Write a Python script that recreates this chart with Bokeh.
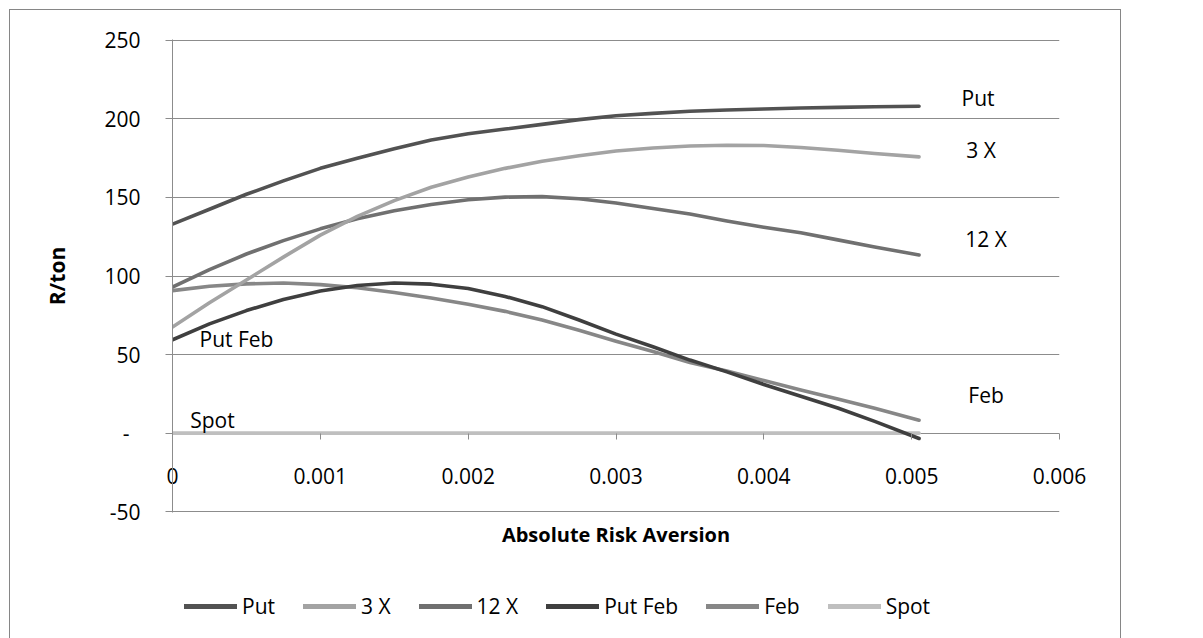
from bokeh.plotting import figure
from bokeh.layouts import column
from bokeh.models import (Range1d, FixedTicker, Legend, LegendItem, ColumnDataSource)
from bokeh.core.properties import value
from bokeh.embed import file_html
from bokeh.resources import INLINE

# ---- data ----
aversion = [0.0, 0.00025, 0.0005, 0.00075, 0.001, 0.00125, 0.0015, 0.00175, 0.002,
            0.00225, 0.0025, 0.00275, 0.003, 0.00325, 0.0035, 0.00375, 0.004,
            0.00425, 0.0045, 0.00475, 0.00505]
put      = [133, 142.5, 152, 160.5, 168.5, 175, 181, 186.5, 190.5, 193.5, 196.5,
            199.5, 202, 203.5, 204.8, 205.6, 206.3, 206.9, 207.3, 207.7, 208]
three_x  = [67.5, 83, 97.5, 112, 126, 138, 148, 156.5, 163, 168.5, 173,
            176.5, 179.5, 181.5, 182.7, 183.2, 183, 181.8, 180, 178, 175.8]
twelve_x = [93, 104, 114, 122.5, 130, 136.5, 141.5, 145.5, 148.5, 150.2, 150.5,
            149.2, 146.5, 143, 139.5, 135, 131, 127.5, 123, 118.5, 113.4]
put_feb  = [59.4, 69.5, 78, 85, 90.5, 94, 95.5, 94.8, 92, 87, 80.5,
            72, 63, 55, 46.5, 39, 31, 23.5, 16, 7.5, -3.4]
feb      = [90.7, 93.5, 95, 95.5, 94.5, 92.5, 89.5, 86, 82, 77.5, 72,
            65.5, 58.5, 52, 45, 39.5, 33.5, 27.5, 21.8, 15.8, 8.2]
spot     = [0, 0, 0, 0, 0, 0, 0, 0, 0, 0, 0, 0, 0, 0, 0, 0, 0, 0, 0, 0, 0]

series_names = ["Put", "3 X", "12 X", "Put Feb", "Feb", "Spot"]
series_vals = [put, three_x, twelve_x, put_feb, feb, spot]
series_colors = ["#525252", "#a3a3a3", "#707070", "#3f3f3f", "#878787", "#bfbfbf"]

x_ticks = [0, 0.001, 0.002, 0.003, 0.004, 0.005, 0.006]
x_tick_labels = ["0", "0.001", "0.002", "0.003", "0.004", "0.005", "0.006"]
y_ticks = [-50, 0, 50, 100, 150, 200, 250]
y_tick_labels = ["-50", "-\u00a0\u00a0", "50", "100", "150", "200", "250"]

FONT = "Open Sans"
GRID = "#8c8c8c"

p = figure(width=1110, height=560, output_backend="svg", toolbar_location=None,
           x_range=Range1d(0, 0.006), y_range=Range1d(-50.5, 250.5),
           min_border_left=162, min_border_right=61, min_border_top=29,
           min_border_bottom=58, title=None)
p.outline_line_color = None
p.background_fill_color = "white"
p.border_fill_color = "white"

# x axis: ticks and labels drawn at the y = 0 line
xa = p.xaxis[0]
xa.ticker = FixedTicker(ticks=x_ticks)
xa.major_label_overrides = {t: l for t, l in zip(x_ticks, x_tick_labels)}
xa.major_tick_in = 79
xa.major_tick_out = -73
xa.minor_tick_out = 0
xa.minor_tick_in = 0
xa.axis_line_color = None
xa.major_tick_line_color = GRID
xa.major_label_standoff = -45
xa.major_label_text_font = FONT
xa.major_label_text_font_size = "21px"
xa.major_label_text_color = "black"
xa.axis_label = "Absolute Risk Aversion"
xa.axis_label_text_font = FONT
xa.axis_label_text_font_size = "20px"
xa.axis_label_text_font_style = "bold"
xa.axis_label_text_color = "black"
xa.axis_label_standoff = 34

ya = p.yaxis[0]
ya.ticker = FixedTicker(ticks=y_ticks)
ya.major_label_overrides = {t: l for t, l in zip(y_ticks, y_tick_labels)}
ya.major_tick_out = 7
ya.major_tick_in = 0
ya.minor_tick_out = 0
ya.minor_tick_in = 0
ya.axis_line_color = GRID
ya.major_tick_line_color = GRID
ya.major_label_standoff = 25
ya.major_label_text_font = FONT
ya.major_label_text_font_size = "21px"
ya.major_label_text_color = "black"
ya.axis_label = "R/ton"
ya.axis_label_text_font = FONT
ya.axis_label_text_font_size = "21px"
ya.axis_label_text_font_style = "bold"
ya.axis_label_text_color = "black"
ya.axis_label_standoff = 30

p.xgrid.visible = False
p.ygrid.ticker = FixedTicker(ticks=y_ticks)
p.ygrid.grid_line_color = GRID
p.ygrid.grid_line_width = 1

# lines
for i in [5, 4, 3, 2, 1, 0]:
    p.line(aversion, series_vals[i], line_color=series_colors[i], line_width=3.6,
           line_cap="round", line_join="round")

# series labels next to the curves
lab_src = ColumnDataSource(dict(
    x=[aversion[-1], aversion[-1], aversion[-1], aversion[-1], aversion[0], aversion[0]],
    y=[put[-1], three_x[-1], twelve_x[-1], feb[-1], put_feb[0], spot[0]],
    text=["Put", "3 X", "12 X", "Feb", "Put Feb", "Spot"],
    dx=[59, 62, 67, 67, 64, 40],
    dy=[-8, -7, -16, -25, -1, -13],
))
p.text(x="x", y="y", text="text", x_offset="dx", y_offset="dy", source=lab_src,
       text_font=value(FONT), text_font_size="21px", text_align="center",
       text_baseline="middle", text_color="black")

# legend strip below the chart (series drawn out of view, only their legend glyphs show)
lf = figure(width=1110, height=80, output_backend="svg", toolbar_location=None,
            x_axis_type=None, y_axis_type=None, x_range=Range1d(1, 2),
            y_range=Range1d(1000, 2000), min_border=0, title=None)
lf.outline_line_color = None
lf.background_fill_color = "white"
lf.border_fill_color = "white"
items = []
for i in range(6):
    r = lf.line(aversion, series_vals[i], line_color=series_colors[i], line_width=5,
                line_cap="round")
    items.append(LegendItem(label=series_names[i], renderers=[r]))
leg = Legend(items=items, orientation="horizontal", location=(12, 30),
             glyph_width=53, glyph_height=20, label_height=20, label_standoff=5,
             spacing=28, padding=0, margin=0, border_line_color=None,
             background_fill_alpha=0, label_text_font=FONT, label_text_font_size="21px",
             label_text_color="black")
lf.add_layout(leg, "center")

layout = column(p, lf, spacing=0)
layout.margin = (9, 0, 0, 9)
layout.styles = {"border": "1px solid #868686"}

open("out.html", "w").write(file_html(layout, INLINE))
